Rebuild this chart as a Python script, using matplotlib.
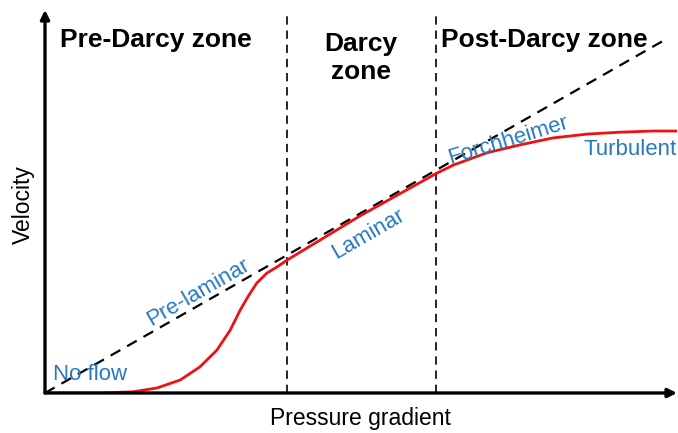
import numpy as np
import matplotlib.pyplot as plt

plt.rcParams['font.family'] = ['Liberation Sans', 'DejaVu Sans']

# Darcy (linear) reference line
ideal_x = [0.0, 9.86]
ideal_y = [0.0, 9.27]

flow_x = [0.0, 0.87, 1.39, 1.77, 2.14, 2.45, 2.72, 2.93, 3.09, 3.21, 3.35,
          3.51, 3.67, 3.83, 4.98, 6.20, 6.46, 6.99, 7.52, 8.04, 8.58,
          9.10, 9.62, 10.0]
flow_y = [0.0, 0.0, 0.03, 0.13, 0.34, 0.68, 1.12, 1.64, 2.17, 2.51, 2.87,
          3.13, 3.29, 3.47, 4.62, 5.74, 5.95, 6.27, 6.48, 6.66, 6.76,
          6.81, 6.84, 6.84]

# zone boundaries
bounds = [3.83, 6.19]

zones = ['Pre-Darcy zone', 'Darcy\nzone', 'Post-Darcy zone']
blue = '#2878bd'

fig = plt.figure(figsize=(6.78, 4.33), dpi=100)
ax = fig.add_axes([45/678, 40/433, 632/678, 383/433])
ax.set_xlim(0, 10)
ax.set_ylim(0, 10)
ax.axis('off')

# axes with arrows
for tip in [(1, 0), (0, 1)]:
    ax.annotate('', xy=tip, xytext=(0, 0), xycoords='axes fraction',
                arrowprops=dict(arrowstyle='-|>', lw=2.4, color='black',
                                mutation_scale=13, shrinkA=0, shrinkB=0))

for b in bounds:
    ax.plot([b, b], [0, 9.95], color='black', lw=1.2, ls=(0, (5, 3.5)))

ax.plot(ideal_x, ideal_y, color='black', lw=1.6, ls=(0, (5, 3.5)))
ax.plot(flow_x, flow_y, color='#ee1111', lw=2.0, solid_joinstyle='round')

# zone titles
ax.text(0.24, 9.03, zones[0], fontsize=19, fontweight='bold', va='baseline', ha='left')
ax.text(5.0, 8.2, zones[1], fontsize=19, fontweight='bold', va='baseline', ha='center',
        linespacing=1.2, multialignment='center')
ax.text(6.27, 9.03, zones[2], fontsize=19, fontweight='bold', va='baseline', ha='left')

# regime labels
ax.text(0.13, 0.34, 'No flow', color=blue, fontsize=16, va='baseline', ha='left')
ax.text(2.42, 2.62, 'Pre-laminar', color=blue, fontsize=16, rotation=30,
        va='center', ha='center', rotation_mode='anchor')
ax.text(5.11, 4.15, 'Laminar', color=blue, fontsize=16, rotation=30,
        va='center', ha='center', rotation_mode='anchor')
ax.text(7.33, 6.6, 'Forchheimer', color=blue, fontsize=16, rotation=17,
        va='center', ha='center', rotation_mode='anchor')
ax.text(10.0, 6.37, 'Turbulent', color=blue, fontsize=16, va='center', ha='right')

fig.text(360/678, 1 - 418/433, 'Pressure gradient', fontsize=16.5, ha='center', va='center')
fig.text(23/678, 1 - 205/433, 'Velocity', fontsize=16.5, ha='center', va='center', rotation=90)

fig.savefig('out.png', dpi=100)
